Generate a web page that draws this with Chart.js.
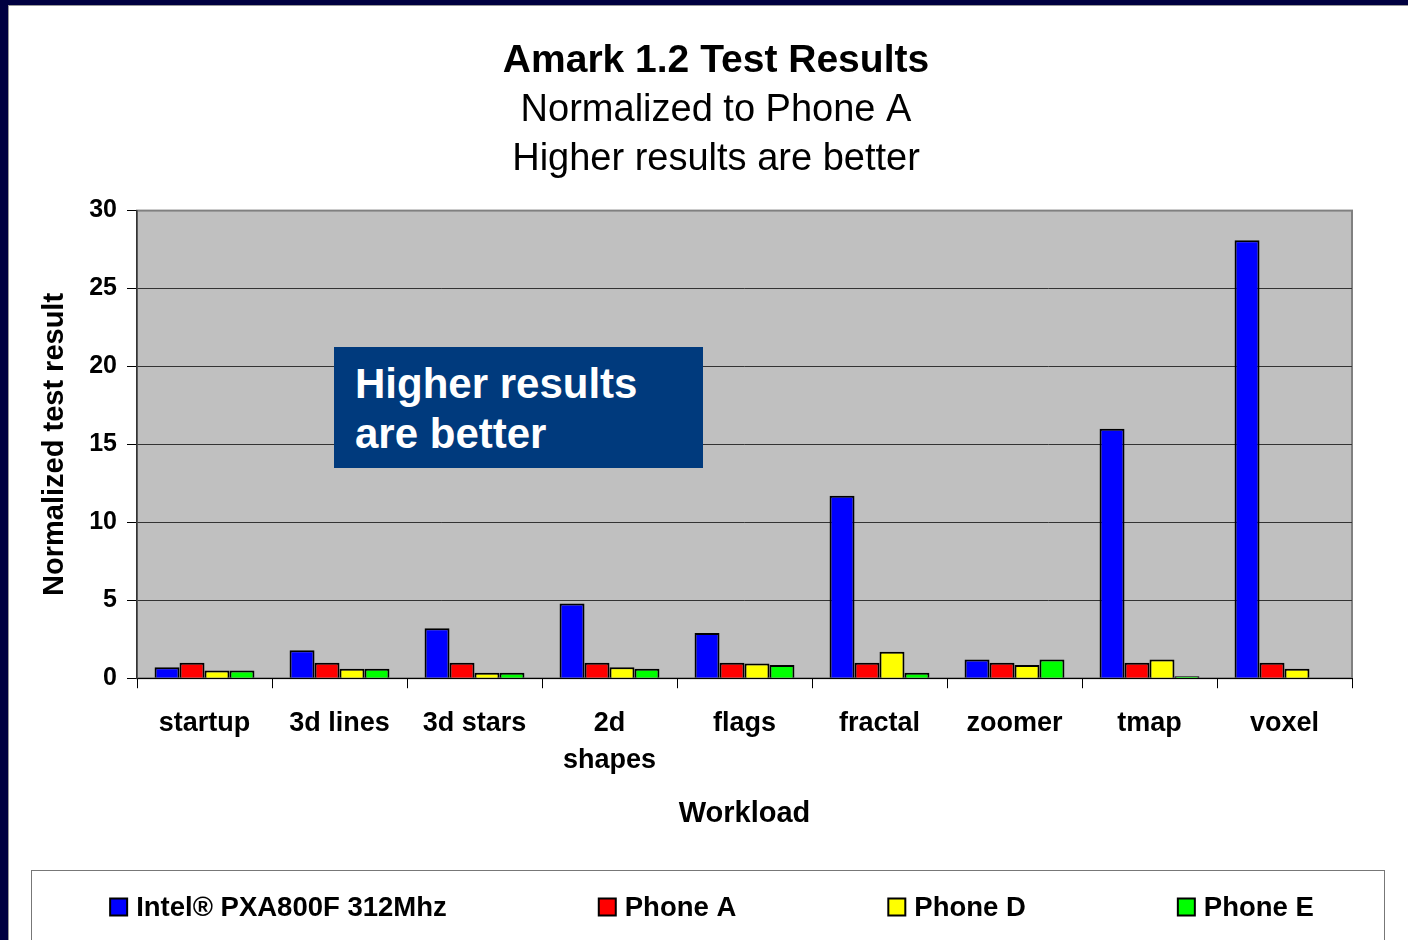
<!DOCTYPE html>
<html>
<head>
<meta charset="utf-8">
<script src="https://cdn.jsdelivr.net/npm/chart.js@4/dist/chart.umd.min.js"></script>
<style>
  html, body { margin: 0; padding: 0; }
  body { width: 1408px; height: 940px; background: #000040; position: relative; overflow: hidden; }
  #panel { position: absolute; left: 8px; top: 5px; width: 1400px; height: 935px; background: #fff; border-left: 1px solid #999; border-top: 1px solid #999; }
  #legendBox { position: absolute; left: 31px; top: 870px; width: 1352px; height: 80px; border: 1px solid #777; }
  #note { position: absolute; left: 334px; top: 347px; width: 369px; height: 121px; background: #003a7d;
          color: #fff; font: bold 42px "Liberation Sans", Arial, sans-serif; line-height: 50px; box-sizing: border-box; padding: 12px 0 0 21px; }
  #myChart { position: absolute; left: 0; top: 0; }
</style>
</head>
<body>
<div id="panel"></div>
<div id="legendBox"></div>
<canvas id="myChart" width="1408" height="940"></canvas>
<div id="note">Higher results<br>are better</div>
<script>
const FONT = '"Liberation Sans", Arial, sans-serif';

var _labels = ['startup', '3d lines', '3d stars', ['2d', 'shapes'], 'flags', 'fractal', 'zoomer', 'tmap', 'voxel'];
var seriesNames = ['Intel\u00AE PXA800F 312Mhz', 'Phone A', 'Phone D', 'Phone E'];
var seriesColors = ['#0000ff', '#ff0000', '#ffff00', '#00ff00'];

var intelData = [0.7, 1.8, 3.2, 4.8, 2.9, 11.7, 1.2, 16.0, 28.1];
var phoneAData = [1, 1, 1, 1, 1, 1, 1, 1, 1];
var phoneDData = [0.5, 0.6, 0.35, 0.7, 0.95, 1.7, 0.85, 1.2, 0.6];
var phoneEData = [0.5, 0.6, 0.35, 0.6, 0.85, 0.35, 1.2, 0.12, null];

var yTicks = [0, 5, 10, 15, 20, 25, 30];

const ctx = document.getElementById('myChart');

// grey plot background like the old Excel chart
const plotBg = {
  id: 'plotBg',
  beforeDraw: function (chart) {
    const a = chart.chartArea;
    const c = chart.ctx;
    c.save();
    c.fillStyle = '#c0c0c0';
    c.fillRect(a.left, a.top, a.right - a.left, a.bottom - a.top);
    c.strokeStyle = '#808080';
    c.lineWidth = 2;
    c.strokeRect(a.left, a.top, a.right - a.left, a.bottom - a.top);
    c.restore();
  }
};

// legend drawn in the bottom padding, items spaced evenly
const bottomLegend = {
  id: 'bottomLegend',
  afterDraw: function (chart) {
    const c = chart.ctx;
    const gap = 152, box = 17, textGap = 9;
    c.save();
    c.font = 'bold 27.5px ' + FONT;
    c.textBaseline = 'middle';
    let widths = chart.data.datasets.map(function (ds) { return box + textGap + c.measureText(ds.label).width; });
    let total = widths.reduce(function (s, w) { return s + w; }, 0) + gap * (widths.length - 1);
    let x = 712 - total / 2;
    const y = 907;
    chart.data.datasets.forEach(function (ds, i) {
      c.fillStyle = ds.backgroundColor;
      c.fillRect(x, y - box / 2, box, box);
      c.strokeStyle = '#000';
      c.lineWidth = 2;
      c.strokeRect(x, y - box / 2, box, box);
      c.fillStyle = '#000';
      c.fillText(ds.label, x + box + textGap, y + 1);
      x += widths[i] + gap;
    });
    c.restore();
  }
};

var allData = [intelData, phoneAData, phoneDData, phoneEData];

new Chart(ctx, {
  type: 'bar',
  data: {
    labels: _labels,
    datasets: seriesNames.map(function (name, i) {
      return {
        label: name,
        data: allData[i],
        backgroundColor: seriesColors[i],
        borderColor: '#000',
        borderWidth: 2,
        categoryPercentage: 0.74,
        barPercentage: 1.0,
      };
    }),
  },
  options: {
    responsive: false,
    animation: false,
    layout: { padding: { left: 80, right: 56, top: 0, bottom: 109 } },
    plugins: {
      legend: { display: false },
      tooltip: { enabled: false },
      title: {
        display: true,
        text: 'Amark 1.2 Test Results',
        color: '#000',
        font: { family: FONT, size: 39, weight: 'bold', lineHeight: 1.2 },
        padding: { top: 38, bottom: 0 },
      },
      subtitle: {
        display: true,
        text: ['Normalized to Phone A', 'Higher results are better'],
        color: '#000',
        font: { family: FONT, size: 38, weight: 'normal', lineHeight: 1.3 },
        padding: { top: 1, bottom: 26 },
      },
    },
    scales: {
      x: {
        grid: {
          drawOnChartArea: false,
          drawTicks: true,
          tickLength: 10,
          color: '#000',
          offset: true,
        },
        border: { display: true, color: '#000', width: 1 },
        ticks: {
          color: '#000',
          font: { family: FONT, size: 27, weight: 'bold', lineHeight: 1.37 },
          padding: 17,
          maxRotation: 0,
          autoSkip: false,
        },
        title: {
          display: true,
          text: 'Workload',
          color: '#000',
          font: { family: FONT, size: 29, weight: 'bold', lineHeight: 1.2 },
          padding: { top: 0, bottom: 0 },
        },
      },
      y: {
        min: 0,
        max: 30,
        afterBuildTicks: function (axis) {
          axis.ticks = yTicks.map(function (v) { return { value: v }; });
        },
        grid: {
          color: function (c) {
            if (c.tick && c.tick.value === 30) return '#808080';
            if (c.tick && c.tick.value === 0) return '#000';
            return '#333';
          },
          tickColor: '#000',
          tickLength: 10,
          lineWidth: 1,
        },
        border: { display: true, color: '#333', width: 1.5 },
        ticks: {
          color: '#000',
          font: { family: FONT, size: 25, weight: 'bold' },
          padding: 10,
        },
        title: {
          display: true,
          text: 'Normalized test result',
          color: '#000',
          font: { family: FONT, size: 29, weight: 'bold', lineHeight: 1.2 },
          padding: { top: -42.4, bottom: 6.8 },
        },
      },
    },
  },
  plugins: [plotBg, bottomLegend],
});
</script>
</body>
</html>
